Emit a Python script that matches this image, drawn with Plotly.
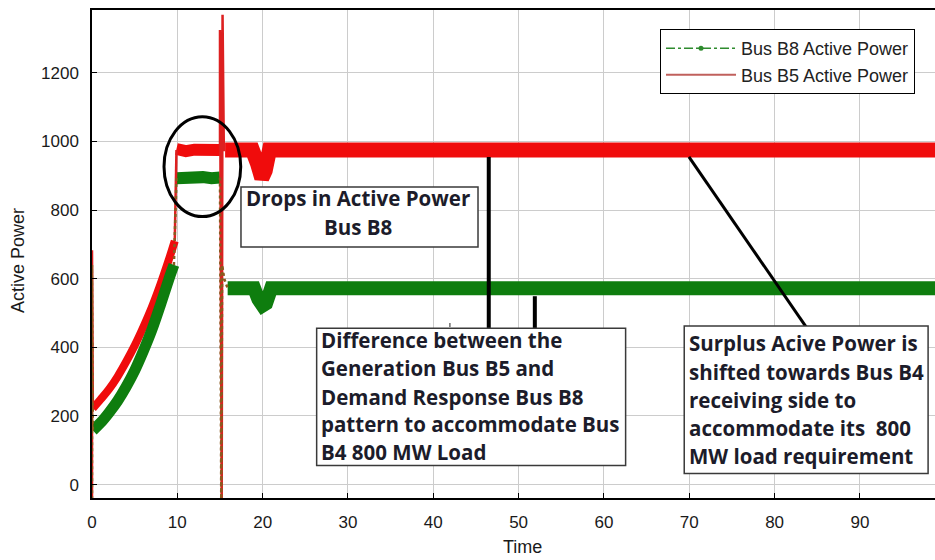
import plotly.graph_objects as go

# ---------------- data ----------------
# Bus B5 (generation, red)
b5_ramp_t = [0.1, 1, 2, 3, 4, 5, 6, 7, 8, 9, 9.7]
b5_ramp_p = [222, 248, 278, 315, 358, 405, 458, 516, 582, 655, 710]
b5_pre_t = [9.9, 11, 12, 13, 14, 15.0]
b5_pre_p = [978, 972, 976, 973, 977, 975]
b5_post_t = [15.6, 18.8, 19.4, 19.9, 20.3, 20.8, 30, 50, 70, 98.8]
b5_post_p = [975, 975, 935, 893, 915, 975, 975, 975, 975, 975]
b5_trans_t = [0, 0, 0.1, None, 9.7, 9.85, 9.9, None, 15.0, 15.0, 15.2, 15.3, 15.45, 15.6]
b5_trans_p = [-60, 683, 222, None, 710, 975, 975, None, 975, 1325, -60, 1369, 975, 975]

# Bus B8 (demand response, green)
b8_ramp_t = [0.1, 1, 2, 3, 4, 5, 6, 7, 8, 9, 9.6]
b8_ramp_p = [158, 180, 210, 244, 285, 332, 388, 450, 522, 598, 640]
b8_pre_t = [9.9, 11, 12, 13, 14, 15.0]
b8_pre_p = [893, 897, 894, 896, 893, 895]
b8_post_t = [15.9, 19.0, 19.5, 20.0, 20.4, 21.0, 30, 50, 70, 98.8]
b8_post_p = [572, 572, 540, 522, 528, 572, 572, 572, 572, 572]
b8_trans_t = [0, 0, 0.1, None, 9.6, 9.85, 9.9, None, 15.0, 15.15, 15.25, 15.5, 15.9]
b8_trans_p = [-60, 640, 158, None, 640, 893, 893, None, 895, -60, 640, 600, 572]

x_ticks = [0, 10, 20, 30, 40, 50, 60, 70, 80, 90]
y_ticks = [0, 200, 400, 600, 800, 1000, 1200]

RED = "#f00c0c"
GREEN = "#0e7d0e"
BROWN = "#8a5a1e"

fig = go.Figure()

# thick bands
fig.add_trace(go.Scatter(x=b5_ramp_t, y=b5_ramp_p, mode="lines", line=dict(color=RED, width=8, shape="spline"), showlegend=False, hoverinfo="skip"))
fig.add_trace(go.Scatter(x=b5_pre_t, y=b5_pre_p, mode="lines", line=dict(color=RED, width=12), showlegend=False, hoverinfo="skip"))
fig.add_trace(go.Scatter(x=b5_post_t, y=b5_post_p, mode="lines", line=dict(color=RED, width=15), showlegend=False, hoverinfo="skip"))
fig.add_trace(go.Scatter(x=b8_ramp_t, y=b8_ramp_p, mode="lines", line=dict(color=GREEN, width=11, shape="spline"), showlegend=False, hoverinfo="skip"))
fig.add_trace(go.Scatter(x=b8_pre_t, y=b8_pre_p, mode="lines", line=dict(color=GREEN, width=12), showlegend=False, hoverinfo="skip"))
fig.add_trace(go.Scatter(x=b8_post_t, y=b8_post_p, mode="lines", line=dict(color=GREEN, width=14), showlegend=False, hoverinfo="skip"))
# thin transients
fig.add_trace(go.Scatter(x=b5_trans_t, y=b5_trans_p, mode="lines", line=dict(color="#dd2020", width=2.5), showlegend=False, hoverinfo="skip", connectgaps=False))
fig.add_trace(go.Scatter(x=b8_trans_t, y=b8_trans_p, mode="lines", line=dict(color=BROWN, width=2.5, dash="dot"), showlegend=False, hoverinfo="skip", connectgaps=False))

# legend entries
fig.add_trace(go.Scatter(x=[None], y=[None], mode="lines+markers", name="Bus B8 Active Power",
                         line=dict(color="#2e8b2e", width=1.5, dash="dashdot"), marker=dict(color="#2e8b2e", size=5)))
fig.add_trace(go.Scatter(x=[None], y=[None], mode="lines", name="Bus B5 Active Power",
                         line=dict(color="#c0605c", width=2)))

shapes = []
# ellipse
shapes.append(dict(type="circle", xref="x", yref="y", x0=8.44, x1=17.43, y0=781, y1=1072,
                   line=dict(color="black", width=3)))
# pointer lines
shapes.append(dict(type="line", xref="x", yref="y", x0=46.5, x1=46.5, y0=955, y1=456, line=dict(color="black", width=4)))
shapes.append(dict(type="line", xref="x", yref="y", x0=51.9, x1=51.9, y0=549, y1=456, line=dict(color="black", width=4)))
shapes.append(dict(type="line", xref="x", yref="y", x0=69.96, x1=83.79, y0=955, y1=456, line=dict(color="black", width=3)))
shapes.append(dict(type="line", xref="x", yref="y", x0=41.9, x1=42.0, y0=465, y1=465, line=dict(color="black", width=4)))
# boxes
box_line = dict(color="#3a3a3a", width=1.5)
shapes.append(dict(type="rect", xref="x", yref="y", x0=17.46, x1=45.24, y0=692.4, y1=867.3, line=box_line, fillcolor="white"))
shapes.append(dict(type="rect", xref="x", yref="y", x0=26.33, x1=62.54, y0=55.4, y1=455.4, line=box_line, fillcolor="white"))
shapes.append(dict(type="rect", xref="x", yref="y", x0=69.41, x1=97.99, y0=32.7, y1=462.1, line=box_line, fillcolor="white"))

TXT = dict(family="Open Sans", size=20.5, color="#1c1c2a")
annotations = []
for t, y in [("<b>Drops in Active Power</b>", 834.4), ("<b>Bus B8</b>", 751.6)]:
    annotations.append(dict(x=31.23, y=y, xref="x", yref="y", text=t, showarrow=False,
                            xanchor="center", yanchor="middle", font=TXT))
box2_lines = ["Difference between the", "Generation Bus B5 and", "Demand Response Bus B8",
              "pattern to accommodate Bus", "B4 800 MW Load"]
for t, y in zip(box2_lines, [421.3, 339.7, 255.1, 176.4, 94.8]):
    annotations.append(dict(x=26.6, y=y, xref="x", yref="y", text="<b>" + t + "</b>", showarrow=False,
                            xanchor="left", yanchor="middle", font=TXT))
box3_lines = ["Surplus Acive Power is", "shifted towards Bus B4", "receiving side to",
              "accommodate its  800", "MW load requirement"]
for t, y in zip(box3_lines, [412.5, 328, 246.4, 164.7, 83.1]):
    annotations.append(dict(x=69.7, y=y, xref="x", yref="y", text="<b>" + t + "</b>", showarrow=False,
                            xanchor="left", yanchor="middle", font=TXT))
# axis titles
AX = dict(family="Liberation Sans", size=18, color="#1a1a1a")
annotations.append(dict(x=0.511, y=-0.1004, xref="paper", yref="paper", text="Time", showarrow=False,
                        xanchor="center", yanchor="middle", font=AX))
annotations.append(dict(x=-0.0878, y=0.4877, xref="paper", yref="paper", text="Active Power", showarrow=False,
                        xanchor="center", yanchor="middle", textangle=-90, font=AX))

fig.update_layout(
    width=935, height=560,
    margin=dict(l=92, r=0, t=10, b=62),
    paper_bgcolor="white", plot_bgcolor="white",
    shapes=shapes, annotations=annotations,
    legend=dict(x=0.6738, y=0.961, xanchor="left", yanchor="top", bgcolor="white",
                bordercolor="black", borderwidth=1, itemwidth=70,
                font=dict(family="Liberation Sans", size=18, color="#222222"),
                tracegroupgap=0),
    xaxis=dict(range=[0, 98.8], tickvals=x_ticks, ticktext=[str(v) for v in x_ticks],
               showgrid=True, gridcolor="#cccccc", gridwidth=1, zeroline=False,
               showline=True, linecolor="black", linewidth=1.5, mirror=True,
               ticks="inside", ticklen=5, tickcolor="black", ticklabelstandoff=8,
               tickfont=dict(family="Liberation Sans", size=17, color="#1a1a1a")),
    yaxis=dict(range=[-39, 1383], tickvals=y_ticks, ticktext=[str(v) for v in y_ticks],
               showgrid=True, gridcolor="#cccccc", gridwidth=1, zeroline=False,
               showline=True, linecolor="black", linewidth=1.5,
               ticks="inside", ticklen=5, tickcolor="black", ticklabelstandoff=8,
               tickfont=dict(family="Liberation Sans", size=17, color="#1a1a1a")),
)

fig.write_html("out.html")
